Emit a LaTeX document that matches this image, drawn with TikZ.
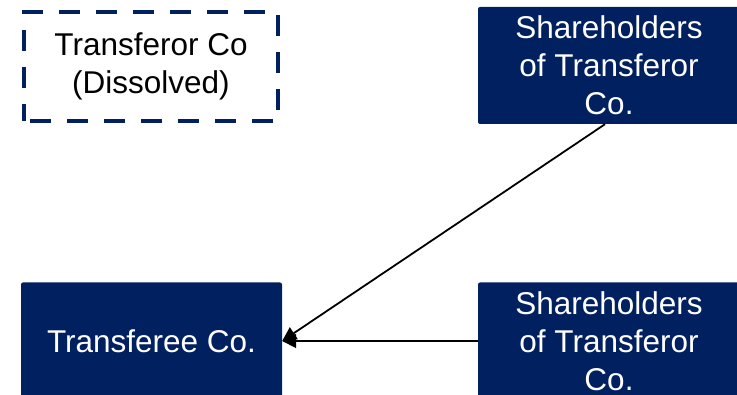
\documentclass[tikz,border=0pt]{standalone}
\usepackage{fontspec}
\setmainfont{Liberation Sans}
\usetikzlibrary{arrows.meta}
\definecolor{navy}{RGB}{0,32,96}
\tikzset{
  boxtext/.style={font=\fontsize{31.5}{38}\selectfont, align=center, inner sep=0pt},
  entity/.style={boxtext, fill=navy, text=white, rounded corners=2pt,
    minimum width=262pt, minimum height=117pt},
  gone/.style={boxtext, draw=navy, text=black, line width=4.5pt,
    dash pattern=on 21pt off 16pt, dash phase=-6pt,
    minimum width=254pt, minimum height=109pt},
  flow/.style={line width=1.8pt, -{Triangle[length=14pt,width=14pt]}}
}
\begin{document}
\begin{tikzpicture}[x=1pt,y=-1pt]
  \useasboundingbox (0,0) rectangle (737,395);
  \clip (0,0) rectangle (737,395);
  \node[gone] (tor) at (151,66.5) {Transferor Co\\(Dissolved)};
  \node[entity] (sh1) at (609,65.5) {Shareholders\\of Transferor\\Co.};
  \node[entity, minimum width=261pt] (tee) at (151.5,341) {Transferee Co.};
  \node[entity] (sh2) at (609,341) {Shareholders\\of Transferor\\Co.};
  \draw[flow] ([xshift=-4pt]sh1.south) -- (tee.east);
  \draw[flow] (sh2.west) -- (tee.east);
\end{tikzpicture}
\end{document}
